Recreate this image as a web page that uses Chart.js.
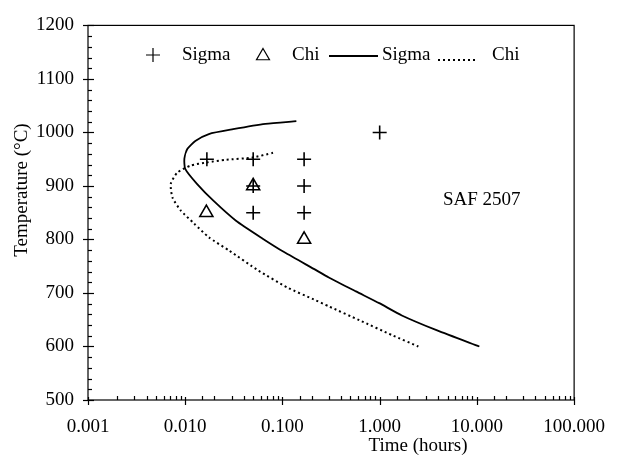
<!DOCTYPE html>
<html>
<head>
<meta charset="utf-8">
<script src="https://cdn.jsdelivr.net/npm/chart.js@4.4.1/dist/chart.umd.min.js"></script>
<style>
  body { margin: 0; background: #fff; }
  canvas { display: block; }
</style>
</head>
<body>
<canvas id="tttChart" width="621" height="461"></canvas>
<script>
// measured points (time in hours, temperature in C)
const sigmaPointTime = [0.0167, 0.05, 0.167, 0.05, 0.167, 0.05, 0.167, 1.0];
const sigmaPointTemp = [950, 950, 950, 900, 900, 850, 850, 1000];
const chiPointTime = [0.05, 0.0165, 0.167];
const chiPointTemp = [900, 850, 800];

// calculated curves
const sigmaCurveTime = [0.139, 0.0667, 0.0311, 0.0175, 0.0127, 0.0105, 0.0098, 0.0100, 0.0132, 0.0196, 0.0333, 0.0621, 0.105, 0.21, 0.3, 0.57, 0.99, 1.69, 3.9, 10.6];
const sigmaCurveTemp = [1021, 1016, 1006, 997, 984, 969, 951, 932, 904, 872, 835, 802, 776, 745, 729, 703, 681, 658, 630, 600];
const chiCurveTime = [0.080, 0.049, 0.0265, 0.0167, 0.0113, 0.0083, 0.0071, 0.0074, 0.0090, 0.0123, 0.0175, 0.0284, 0.0565, 0.113, 0.21, 0.3, 0.62, 1.35, 2.5];
const chiCurveTemp = [962, 953, 949, 944, 938, 925, 904, 878, 854, 830, 804, 779, 742, 710, 688, 675, 649, 621, 600];

const xTickLabels = ["0.001", "0.010", "0.100", "1.000", "10.000", "100.000"];
const yTickLabels = ["500", "600", "700", "800", "900", "1000", "1100", "1200"];

const FONT = "Liberation Serif";

function toXY(xs, ys) {
  return xs.map((x, i) => ({ x: x, y: ys[i] }));
}

const framePlugin = {
  id: "frame",
  afterDraw(chart) {
    const ctx = chart.ctx;
    const area = chart.chartArea;
    const xs = chart.scales.x;
    const ys = chart.scales.y;
    ctx.save();
    ctx.strokeStyle = "#000";
    ctx.lineWidth = 1.2;
    ctx.strokeRect(area.left, area.top, area.right - area.left, area.bottom - area.top);

    // y ticks: majors cross, minors inside
    ys.ticks.forEach(t => {
      const py = Math.round(ys.getPixelForValue(t.value)) + 0.5;
      const major = t.value % 100 === 0;
      ctx.beginPath();
      ctx.moveTo(area.left - (major ? 5 : 0), py);
      ctx.lineTo(area.left + (major ? 6 : 4), py);
      ctx.stroke();
    });

    // x ticks
    xs.ticks.forEach(t => {
      const px = Math.round(xs.getPixelForValue(t.value)) + 0.5;
      const major = Math.abs(Math.log10(t.value) - Math.round(Math.log10(t.value))) < 1e-9;
      ctx.beginPath();
      ctx.moveTo(px, area.bottom + (major ? 5 : 0));
      ctx.lineTo(px, area.bottom - (major ? 3 : 4));
      ctx.stroke();
    });

    // axis titles
    ctx.fillStyle = "#000";
    ctx.font = "19px '" + FONT + "'";
    ctx.textAlign = "center";
    ctx.textBaseline = "middle";
    ctx.fillText("Time (hours)", 418, 446);
    ctx.save();
    ctx.translate(22, 190);
    ctx.rotate(-Math.PI / 2);
    ctx.fillText("Temperature (\u00B0C)", 0, 0);
    ctx.restore();

    // annotation
    ctx.textAlign = "left";
    ctx.fillText("SAF 2507", 443, 200);

    // legend
    const ly = 55;
    ctx.fillStyle = "rgba(0,0,0,0)";
    Chart.helpers.drawPoint(ctx, { pointStyle: "cross", radius: 7, borderWidth: 1.5 }, 153, ly);
    Chart.helpers.drawPoint(ctx, { pointStyle: "triangle", radius: 7.5, borderWidth: 1.5 }, 263, ly + 1);
    ctx.fillStyle = "#000";
    ctx.fillText("Sigma", 182, ly);
    ctx.fillText("Chi", 292, ly);
    ctx.lineWidth = 1.8;
    ctx.beginPath();
    ctx.moveTo(329, ly + 1);
    ctx.lineTo(378, ly + 1);
    ctx.stroke();
    ctx.fillText("Sigma", 382, ly);
    ctx.setLineDash([2, 3]);
    ctx.beginPath();
    ctx.moveTo(438, ly + 5);
    ctx.lineTo(478, ly + 5);
    ctx.stroke();
    ctx.setLineDash([]);
    ctx.fillText("Chi", 492, ly);
    ctx.restore();
  }
};

new Chart(document.getElementById("tttChart"), {
  type: "scatter",
  data: {
    datasets: [
      {
        label: "Sigma",
        data: toXY(sigmaPointTime, sigmaPointTemp),
        pointStyle: "cross",
        radius: 7,
        borderColor: "#000",
        borderWidth: 1.6,
        showLine: false
      },
      {
        label: "Chi",
        data: toXY(chiPointTime, chiPointTemp),
        pointStyle: "triangle",
        radius: 7.5,
        borderColor: "#000",
        backgroundColor: "rgba(0,0,0,0)",
        borderWidth: 1.6,
        showLine: false
      },
      {
        label: "Sigma",
        data: toXY(sigmaCurveTime, sigmaCurveTemp),
        showLine: true,
        pointRadius: 0,
        borderColor: "#000",
        borderWidth: 1.8,
        tension: 0.2,
        fill: false
      },
      {
        label: "Chi",
        data: toXY(chiCurveTime, chiCurveTemp),
        showLine: true,
        pointRadius: 0,
        borderColor: "#000",
        borderWidth: 2,
        borderDash: [2, 3],
        tension: 0.2,
        fill: false
      }
    ]
  },
  options: {
    responsive: false,
    animation: false,
    layout: { padding: { top: 24, right: 34, left: 0, bottom: 0 } },
    plugins: {
      legend: { display: false },
      tooltip: { enabled: false }
    },
    scales: {
      x: {
        type: "logarithmic",
        min: 0.001,
        max: 100,
        grid: { display: false, drawTicks: false },
        border: { display: false },
        ticks: {
          color: "#000",
          font: { family: FONT, size: 19 },
          padding: 16,
          autoSkip: false,
          maxRotation: 0,
          callback: function (value) {
            const lg = Math.log10(value);
            if (Math.abs(lg - Math.round(lg)) > 1e-9) return "";
            return xTickLabels[Math.round(lg) + 3];
          }
        },
        afterFit: function (scale) { scale.height = 61; }
      },
      y: {
        min: 500,
        max: 1200,
        grid: { display: false, drawTicks: false },
        border: { display: false },
        ticks: {
          stepSize: 20,
          color: "#000",
          font: { family: FONT, size: 19 },
          padding: 14,
          autoSkip: false,
          callback: function (value) {
            if (value % 100 !== 0) return "";
            return yTickLabels[(value - 500) / 100];
          }
        },
        afterFit: function (scale) { scale.width = 88; }
      }
    }
  },
  plugins: [framePlugin]
});
</script>
</body>
</html>
